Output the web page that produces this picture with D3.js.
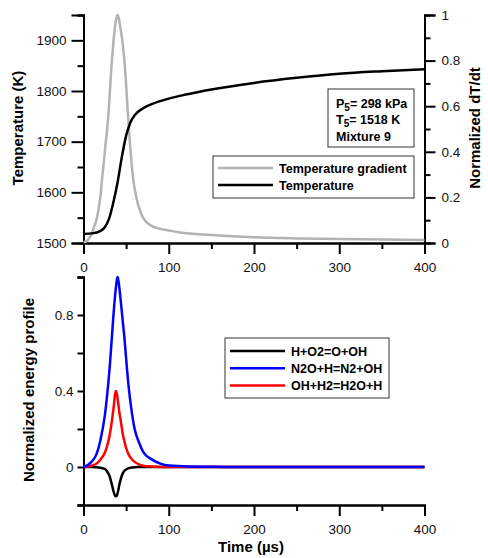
<!DOCTYPE html>
<html>
<head>
<meta charset="utf-8">
<script src="https://cdn.jsdelivr.net/npm/d3@7"></script>
<style>
  body { margin: 0; background: #fff; }
  svg { display: block; font-family: "Liberation Sans", Arial, sans-serif; }
  .axis path, .axis line { stroke: #000; stroke-width: 2; }
  .axis text { font-size: 13.5px; fill: #111; }
  .title { font-size: 15px; font-weight: bold; }
  .leg { font-size: 12.5px; font-weight: bold; }
</style>
</head>
<body>
<svg id="chart" width="488" height="558"></svg>
<script>
// ---- data ----
const tempTime = [0, 10, 20, 25, 30, 35, 40, 45, 50, 55, 60, 70, 80, 100, 120, 150, 200, 250, 300, 350, 400];
const tempK    = [1518, 1519, 1524, 1531, 1548, 1580, 1620, 1670, 1712, 1738, 1752, 1766, 1774, 1785, 1793, 1803, 1816, 1826, 1834, 1839, 1843];

const gradTime = [0, 5, 10, 12.5, 15, 17.5, 20, 22, 24, 26, 28, 29.6, 32, 35, 37, 38.5, 40, 41.5, 43, 46, 49.4, 51.8, 54.5, 58, 62, 66, 70, 80, 90, 100, 113, 150, 200, 250, 300, 350, 400];
const gradNorm = [0.003, 0.013, 0.044, 0.072, 0.1, 0.145, 0.21, 0.29, 0.36, 0.437, 0.51, 0.583, 0.73, 0.876, 0.95, 0.985, 1.0, 0.985, 0.95, 0.876, 0.73, 0.583, 0.437, 0.29, 0.2, 0.145, 0.11, 0.075, 0.062, 0.055, 0.046, 0.035, 0.025, 0.02, 0.017, 0.015, 0.013];

const rxnTime  = [0, 5, 10, 15, 20, 25, 28, 31, 34, 36, 37, 38, 39, 40, 41, 42, 44, 46, 48, 50, 53, 56, 60, 65, 70, 80, 90, 100, 150, 200, 300, 400];
const rxnH_O2  = [0, 0, 0, -0.001, -0.004, -0.01, -0.025, -0.053, -0.106, -0.14, -0.151, -0.154, -0.151, -0.138, -0.118, -0.095, -0.058, -0.035, -0.02, -0.013, -0.006, -0.003, -0.001, 0, 0, 0, 0, 0, 0, 0, 0, 0];
const rxnN2O_H = [0, 0.01, 0.03, 0.065, 0.145, 0.27, 0.39, 0.54, 0.73, 0.85, 0.9, 0.945, 0.98, 1.0, 0.98, 0.945, 0.86, 0.77, 0.68, 0.57, 0.42, 0.31, 0.2, 0.13, 0.08, 0.04, 0.018, 0.008, 0.001, 0, 0, 0];
const rxnOH_H2 = [0, 0.002, 0.008, 0.017, 0.04, 0.075, 0.115, 0.175, 0.265, 0.34, 0.383, 0.4, 0.39, 0.36, 0.325, 0.29, 0.235, 0.175, 0.135, 0.1, 0.065, 0.045, 0.027, 0.014, 0.007, 0.002, 0, 0, 0, 0, 0, 0];

const rxnNames  = ["H+O2=O+OH", "N2O+H=N2+OH", "OH+H2=H2O+H"];
const rxnColors = ["#000000", "#0000ff", "#ff0000"];
const tempNames = ["Temperature gradient", "Temperature"];

const timeTicks = [0, 100, 200, 300, 400];
const tempTicks = [1500, 1600, 1700, 1800, 1900];
const normTicks = [0, 0.2, 0.4, 0.6, 0.8, 1];
const energyTicks = [0, 0.4, 0.8];

const svg = d3.select("#chart");

// ---- scales ----
const x = d3.scaleLinear().domain([0, 400]).range([83.5, 424.5]);
const yT = d3.scaleLinear().domain([1500, 1950]).range([243, 15]);
const yN = d3.scaleLinear().domain([0, 1]).range([243, 15]);
const yE = d3.scaleLinear().domain([-0.2, 1.0]).range([505, 277]);

function axisPair(g, major, minor) {
  g.append("g").attr("class", "axis").call(minor).selectAll("text").remove();
  g.append("g").attr("class", "axis").call(major);
}

// ---- top panel axes ----
const topPanel = svg.append("g");
axisPair(topPanel.append("g").attr("transform", "translate(0,243)"),
  d3.axisBottom(x).tickValues(timeTicks).tickSize(11).tickPadding(8).tickFormat(d3.format("d")),
  d3.axisBottom(x).tickValues([50, 150, 250, 350]).tickSize(6));
axisPair(topPanel.append("g").attr("transform", "translate(83.5,0)"),
  d3.axisLeft(yT).tickValues(tempTicks).tickSize(12).tickPadding(5).tickFormat(d3.format("d")),
  d3.axisLeft(yT).tickValues([1550, 1650, 1750, 1850, 1950]).tickSize(6));
axisPair(topPanel.append("g").attr("transform", "translate(424.5,0)"),
  d3.axisRight(yN).tickValues(normTicks).tickSize(11).tickPadding(6).tickFormat(d => d === 0 || d === 1 ? d : d3.format(".1f")(d)),
  d3.axisRight(yN).tickValues([0.1, 0.3, 0.5, 0.7, 0.9]).tickSize(6));

// ---- top panel lines ----
const lineGrad = d3.line().x(d => x(d[0])).y(d => yN(d[1])).curve(d3.curveMonotoneX);
const lineTemp = d3.line().x(d => x(d[0])).y(d => yT(d[1])).curve(d3.curveMonotoneX);
topPanel.append("path")
  .attr("d", lineGrad(d3.zip(gradTime, gradNorm)))
  .attr("fill", "none").attr("stroke", "#b3b3b3").attr("stroke-width", 2.5);
topPanel.append("path")
  .attr("d", lineTemp(d3.zip(tempTime, tempK)))
  .attr("fill", "none").attr("stroke", "#000").attr("stroke-width", 2.5);

// titles
svg.append("text").attr("class", "title").attr("text-anchor", "middle")
  .attr("transform", "translate(18,128) rotate(-90)").attr("dy", "0.35em").text("Temperature (K)");
svg.append("text").attr("class", "title").attr("text-anchor", "middle")
  .attr("transform", "translate(475,128) rotate(-90)").attr("dy", "0.35em").text("Normalized dT/dt");

// annotation box
topPanel.append("rect").attr("x", 328).attr("y", 89).attr("width", 86).attr("height", 58)
  .attr("fill", "#fff").attr("stroke", "#333").attr("stroke-width", 1);
const ann = topPanel.append("g").attr("class", "leg");
const a1 = ann.append("text").attr("x", 336).attr("y", 107.5);
a1.append("tspan").text("P");
a1.append("tspan").attr("font-size", "10px").attr("dy", 3).text("5");
a1.append("tspan").attr("dy", -3).text("= 298 kPa");
const a2 = ann.append("text").attr("x", 336).attr("y", 123.5);
a2.append("tspan").text("T");
a2.append("tspan").attr("font-size", "10px").attr("dy", 3).text("5");
a2.append("tspan").attr("dy", -3).text("= 1518 K");
ann.append("text").attr("x", 336).attr("y", 140.5).text("Mixture 9");

// top legend
topPanel.append("rect").attr("x", 213).attr("y", 156).attr("width", 201).attr("height", 42)
  .attr("fill", "#fff").attr("stroke", "#333").attr("stroke-width", 1);
const tl = topPanel.append("g").selectAll("g").data(tempNames).join("g")
  .attr("transform", (d, i) => `translate(0,${168 + i * 17})`);
tl.append("line").attr("x1", 218).attr("x2", 273)
  .attr("stroke", (d, i) => i === 0 ? "#b3b3b3" : "#000").attr("stroke-width", 2.5);
tl.append("text").attr("class", "leg").attr("x", 279).attr("dy", "0.36em").text(d => d);

// ---- bottom panel axes ----
const botPanel = svg.append("g");
axisPair(botPanel.append("g").attr("transform", "translate(0,505)"),
  d3.axisBottom(x).tickValues(timeTicks).tickSize(11).tickPadding(8).tickFormat(d3.format("d")),
  d3.axisBottom(x).tickValues([50, 150, 250, 350]).tickSize(6));
axisPair(botPanel.append("g").attr("transform", "translate(83.5,0)"),
  d3.axisLeft(yE).tickValues(energyTicks).tickSize(6).tickPadding(4).tickFormat(d => d === 0 ? "0" : d3.format(".1f")(d)),
  d3.axisLeft(yE).tickValues([-0.2, 0.2, 0.6, 1.0]).tickSize(6));

// ---- bottom panel lines ----
const lineE = d3.line().x(d => x(d[0])).y(d => yE(d[1])).curve(d3.curveMonotoneX);
const rxnSeries = [rxnH_O2, rxnN2O_H, rxnOH_H2];
[0, 2, 1].forEach(i => {
  botPanel.append("path")
    .attr("d", lineE(d3.zip(rxnTime, rxnSeries[i])))
    .attr("fill", "none").attr("stroke", rxnColors[i]).attr("stroke-width", 2.5);
});

svg.append("text").attr("class", "title").attr("text-anchor", "middle")
  .attr("transform", "translate(29,390) rotate(-90)").attr("dy", "0.35em").text("Normalized energy profile");
svg.append("text").attr("class", "title").attr("text-anchor", "middle")
  .attr("x", 251).attr("y", 552).text("Time (µs)");

// bottom legend
botPanel.append("rect").attr("x", 225).attr("y", 338).attr("width", 164).attr("height", 60)
  .attr("fill", "#fff").attr("stroke", "#333").attr("stroke-width", 1);
const bl = botPanel.append("g").selectAll("g").data(rxnNames).join("g")
  .attr("transform", (d, i) => `translate(0,${351 + i * 17.3})`);
bl.append("line").attr("x1", 230).attr("x2", 285)
  .attr("stroke", (d, i) => rxnColors[i]).attr("stroke-width", 2.5);
bl.append("text").attr("class", "leg").attr("x", 291).attr("dy", "0.36em").text(d => d);
</script>
</body>
</html>
